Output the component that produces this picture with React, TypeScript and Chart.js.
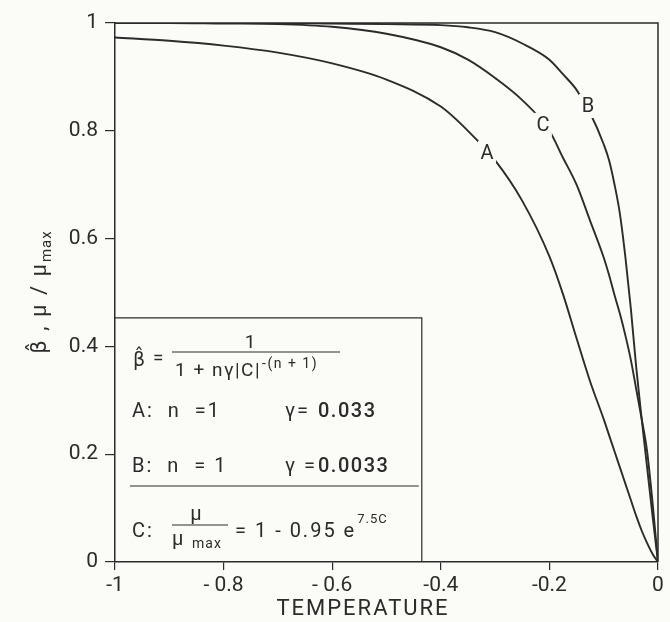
import React, { useEffect, useRef } from "react";
import { Chart, registerables } from "chart.js";

Chart.register(...registerables);

// ---- data ----
const temperature = [-1, -0.9, -0.8, -0.7, -0.6, -0.5, -0.4, -0.35, -0.3, -0.25, -0.2, -0.175, -0.15, -0.125, -0.1, -0.09, -0.08, -0.07, -0.06, -0.05, -0.04, -0.03, -0.02, -0.01, 0];
const curveA = [0.973, 0.967, 0.958, 0.945, 0.925, 0.895, 0.845, 0.8, 0.745, 0.67, 0.567, 0.497, 0.415, 0.335, 0.265, 0.235, 0.205, 0.175, 0.145, 0.115, 0.085, 0.058, 0.035, 0.015, 0];
const curveB = [1.0, 1.0, 1.0, 1.0, 0.999, 0.998, 0.996, 0.992, 0.983, 0.962, 0.932, 0.905, 0.876, 0.833, 0.775, 0.745, 0.7, 0.645, 0.565, 0.47, 0.36, 0.265, 0.175, 0.085, 0];
const curveC = [1.0, 1.0, 0.999, 0.998, 0.993, 0.98, 0.955, 0.932, 0.898, 0.857, 0.8, 0.75, 0.7, 0.633, 0.565, 0.532, 0.495, 0.46, 0.42, 0.375, 0.32, 0.265, 0.205, 0.11, 0];
const seriesNames = ["A", "B", "C"];
const xTickLabels = ["-1", "- 0.8", "- 0.6", "-0.4", "-0.2", "0"];
const yTickLabels = ["0", "0.2", "0.4", "0.6", "0.8", "1"];
const labelAnchors = [
  { name: "A", x: -0.315, y: 0.759 },
  { name: "B", x: -0.129, y: 0.846 },
  { name: "C", x: -0.212, y: 0.811 },
];

const INK = "#2b2b2b";
const BG = "#fbfbf7";
const FONT = "Roboto, 'Liberation Sans', 'DejaVu Sans', sans-serif";
const GREEK = "'DejaVu Sans', sans-serif";

const decorPlugin = {
  id: "decor",
  beforeDraw(chart: any) {
    const { ctx, width, height } = chart;
    ctx.save();
    ctx.fillStyle = BG;
    ctx.fillRect(0, 0, width, height);
    ctx.restore();
  },
  afterDraw(chart: any) {
    const { ctx, chartArea } = chart;
    const xs = chart.scales.x;
    const ys = chart.scales.y;
    const L = chartArea.left;
    const B = chartArea.bottom;
    ctx.save();
    ctx.strokeStyle = INK;
    ctx.fillStyle = INK;

    // top and right frame
    ctx.lineWidth = 1.5;
    ctx.beginPath();
    ctx.moveTo(chartArea.left, chartArea.top);
    ctx.lineTo(chartArea.right, chartArea.top);
    ctx.lineTo(chartArea.right, chartArea.bottom);
    ctx.stroke();

    // legend box
    const boxR = xs.getPixelForValue(-0.435);
    const boxT = ys.getPixelForValue(0.453);
    ctx.lineWidth = 1.2;
    ctx.beginPath();
    ctx.moveTo(L, boxT);
    ctx.lineTo(boxR, boxT);
    ctx.lineTo(boxR, B);
    ctx.stroke();
    ctx.beginPath();
    ctx.moveTo(L + 15, B - 76);
    ctx.lineTo(boxR - 3, B - 76);
    ctx.stroke();

    ctx.textBaseline = "middle";
    ctx.textAlign = "left";
    const f = (size: number, w = 400, fam = FONT) => `${w} ${size}px ${fam}`;
    const ls = (px: number) => { try { (ctx as any).letterSpacing = px + "px"; } catch (e) {} };

    // beta-hat formula
    ls(0);
    ctx.font = f(19, 400, GREEK);
    ctx.fillText("β\u0302", L + 18, B - 201);
    ctx.font = f(19);
    ctx.fillText("=", L + 38, B - 203);
    ctx.lineWidth = 1.1;
    ctx.beginPath();
    ctx.moveTo(L + 57, B - 210);
    ctx.lineTo(L + 225, B - 210);
    ctx.stroke();
    ctx.textAlign = "center";
    ctx.fillText("1", L + 135, B - 219);
    ctx.textAlign = "left";
    ls(1.5);
    ctx.font = f(19);
    const den = "1 + nγ|C|";
    ctx.fillText(den, L + 60, B - 191);
    const dw = ctx.measureText(den).width;
    ctx.font = f(14);
    ctx.fillText("-(n + 1)", L + 60 + dw + 1, B - 198);

    // A and B lines
    ls(2);
    ctx.font = f(20);
    ctx.fillText("A:  n  =1", L + 17, B - 150);
    ctx.fillText("γ=", L + 170, B - 150);
    ctx.fillText("B:  n  = 1", L + 17, B - 95);
    ctx.fillText("γ =", L + 170, B - 95);
    ls(1.5);
    ctx.font = f(20, 500);
    ctx.fillText("0.033", L + 203, B - 150);
    ctx.fillText("0.0033", L + 203, B - 95);

    // C formula
    ls(2);
    ctx.font = f(20);
    ctx.fillText("C:", L + 17, B - 30);
    ctx.textAlign = "center";
    ctx.fillText("μ", L + 82, B - 47);
    ctx.lineWidth = 1.1;
    ctx.beginPath();
    ctx.moveTo(L + 57, B - 37);
    ctx.lineTo(L + 113, B - 37);
    ctx.stroke();
    ctx.textAlign = "left";
    ctx.fillText("μ", L + 57, B - 22);
    ls(1);
    ctx.font = f(14);
    ctx.fillText("max", L + 77, B - 18);
    ls(2);
    ctx.font = f(20);
    const ctext = "= 1 - 0.95 e";
    ctx.fillText(ctext, L + 120, B - 30);
    const cw = ctx.measureText(ctext).width;
    ls(1);
    ctx.font = f(13);
    ctx.fillText("7.5C", L + 120 + cw + 1, B - 42);

    // curve labels with a gap in the line
    ls(0);
    ctx.font = f(20);
    ctx.textAlign = "center";
    labelAnchors.forEach((a) => {
      const px = xs.getPixelForValue(a.x);
      const py = ys.getPixelForValue(a.y);
      ctx.fillStyle = BG;
      ctx.fillRect(px - 9, py - 12, 18, 24);
      ctx.fillStyle = INK;
      ctx.fillText(a.name, px, py + 1);
    });

    // x title
    ls(2);
    ctx.font = f(22);
    ctx.textAlign = "center";
    ctx.fillText("TEMPERATURE", 363, 609);

    // y title (rotated)
    ctx.translate(46, 292);
    ctx.rotate(-Math.PI / 2);
    ctx.textBaseline = "alphabetic";
    ctx.textAlign = "left";
    ls(2);
    ctx.font = f(21, 400, GREEK);
    const beta = "β\u0302";
    const bw = ctx.measureText(beta).width;
    ctx.font = f(22);
    const main = " , μ / μ";
    const mw = ctx.measureText(main).width;
    ls(1);
    ctx.font = f(15);
    const sw = ctx.measureText("max").width;
    const start = -(bw + mw + sw) / 2;
    ls(2);
    ctx.font = f(21, 400, GREEK);
    ctx.fillText(beta, start, 0);
    ctx.font = f(22);
    ctx.fillText(main, start + bw, 0);
    ls(1);
    ctx.font = f(15);
    ctx.fillText("max", start + bw + mw, 5);
    ctx.restore();
  },
};

export default function App() {
  const ref = useRef<HTMLCanvasElement | null>(null);
  useEffect(() => {
    if (!ref.current) return;
    const series = [curveA, curveB, curveC];
    const chart = new Chart(ref.current, {
      type: "line",
      data: {
        datasets: series.map((vals, i) => ({
          label: seriesNames[i],
          data: temperature.map((t, j) => ({ x: t, y: vals[j] })),
          borderColor: INK,
          borderWidth: 1.9,
          pointRadius: 0,
          fill: false,
          cubicInterpolationMode: "monotone" as const,
        })),
      },
      options: {
        responsive: false,
        animation: false,
        layout: { padding: { top: 23, right: 12, left: 0, bottom: 0 } },
        plugins: { legend: { display: false }, tooltip: { enabled: false }, title: { display: false } },
        scales: {
          x: {
            type: "linear",
            min: -1,
            max: 0,
            afterFit: (s: any) => { s.height = 60; },
            ticks: {
              stepSize: 0.2,
              color: INK,
              padding: 3,
              maxRotation: 0,
              font: { family: FONT, size: 21 },
              callback: (_v: any, i: number) => xTickLabels[i],
            },
            grid: { drawOnChartArea: false, drawTicks: true, tickLength: 8, color: INK, lineWidth: 1.2 },
            border: { color: INK, width: 1.5 },
          },
          y: {
            type: "linear",
            min: 0,
            max: 1,
            afterFit: (s: any) => { s.width = 115; },
            ticks: {
              stepSize: 0.2,
              color: INK,
              padding: 7,
              font: { family: FONT, size: 21 },
              callback: (_v: any, i: number) => yTickLabels[i],
            },
            grid: { drawOnChartArea: false, drawTicks: true, tickLength: 10, color: INK, lineWidth: 1.2 },
            border: { color: INK, width: 1.5 },
          },
        },
      },
      plugins: [decorPlugin],
    });
    return () => chart.destroy();
  }, []);
  return (
    <div style={{ position: "fixed", left: 0, top: 0, width: 670, height: 622, background: BG }}>
      <canvas ref={ref} width={670} height={622} style={{ width: 670, height: 622, display: "block" }} />
    </div>
  );
}
